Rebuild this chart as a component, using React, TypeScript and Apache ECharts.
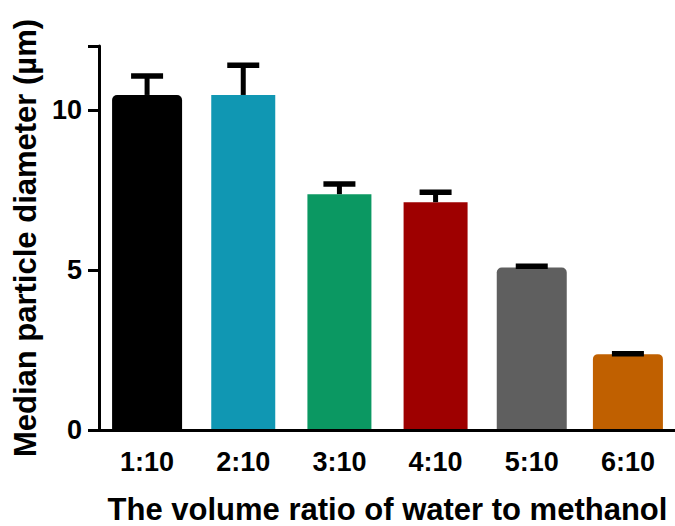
import React, { useEffect, useRef } from "react";
import * as echarts from "echarts";

const categories = ["1:10", "2:10", "3:10", "4:10", "5:10", "6:10"];
const means = [10.47, 10.47, 7.37, 7.12, 5.08, 2.37];
const sds = [0.59, 0.93, 0.32, 0.31, 0.04, 0.01];
const colors = ["#000000", "#1097b3", "#0b9862", "#9e0000", "#5f5f5f", "#c06000"];
const rounded = [true, false, false, false, true, true];
const yTicks = [0, 5, 10];

const FONT = "Arial, 'Liberation Sans', Helvetica, sans-serif";
const WIDE_BAR = 70;
const NARROW_BAR = 64;

export default function App() {
  const ref = useRef<HTMLDivElement>(null);

  useEffect(() => {
    document.body.style.margin = "0";
    if (!ref.current) return;
    const chart = echarts.init(ref.current, undefined, { renderer: "svg" });

    const barData = means.map((m, i) => [i, m]);
    const errData = means.map((m, i) => [i, m, m + sds[i]]);

    chart.setOption({
      animation: false,
      grid: { left: 99, top: 46, width: 577, bottom: 96, containLabel: false, outerBoundsMode: "none" },
      xAxis: {
        type: "category",
        data: categories,
        z: 5,
        axisLine: { lineStyle: { color: "#000", width: 3 } },
        axisTick: { alignWithLabel: true, length: 13, lineStyle: { color: "#000", width: 3 } },
        axisLabel: { color: "#000", fontSize: 27, fontWeight: "bold", fontFamily: FONT, margin: 18 },
        name: "The volume ratio of water to methanol",
        nameLocation: "middle",
        nameGap: 64,
        nameTextStyle: { color: "#000", fontSize: 31, fontWeight: "bold", fontFamily: FONT },
      },
      yAxis: {
        type: "value",
        min: yTicks[0],
        max: 12,
        interval: yTicks[1] - yTicks[0],
        z: 5,
        splitLine: { show: false },
        axisLine: { show: true, lineStyle: { color: "#000", width: 3 } },
        axisTick: { show: true, length: 11, lineStyle: { color: "#000", width: 3 } },
        axisLabel: {
          color: "#000",
          fontSize: 27,
          fontWeight: "bold",
          fontFamily: FONT,
          margin: 17,
          formatter: (v: number) => (yTicks.includes(v) ? String(v) : ""),
        },
      },
      graphic: [
        {
          type: "text",
          x: 25,
          y: 238,
          rotation: Math.PI / 2,
          style: {
            text: "Median particle diameter (µm)",
            fill: "#000",
            font: `bold 31px ${FONT}`,
            align: "center",
            verticalAlign: "middle",
          },
        },
      ],
      series: [
        {
          type: "custom",
          z: 2,
          data: barData,
          encode: { x: 0, y: 1 },
          renderItem: (params: any, api: any) => {
            const idx = api.value(0);
            const top = api.coord([idx, api.value(1)]);
            const base = api.coord([idx, 0]);
            const w = rounded[idx] ? WIDE_BAR : NARROW_BAR;
            return {
              type: "rect",
              shape: {
                x: top[0] - w / 2,
                y: top[1],
                width: w,
                height: base[1] - top[1],
                r: rounded[idx] ? [5, 5, 0, 0] : 0,
              },
              style: { fill: colors[idx] },
            };
          },
        },
        {
          type: "custom",
          z: 4,
          data: errData,
          encode: { x: 0, y: [1, 2] },
          renderItem: (params: any, api: any) => {
            const idx = api.value(0);
            const base = api.coord([idx, api.value(1)]);
            const top = api.coord([idx, api.value(2)]);
            const half = 16;
            return {
              type: "group",
              children: [
                {
                  type: "line",
                  shape: { x1: base[0], y1: base[1], x2: top[0], y2: top[1] },
                  style: { stroke: "#000", lineWidth: 5 },
                },
                {
                  type: "line",
                  shape: { x1: top[0] - half, y1: top[1], x2: top[0] + half, y2: top[1] },
                  style: { stroke: "#000", lineWidth: 5.5 },
                },
              ],
            };
          },
        },
      ],
    });

    return () => chart.dispose();
  }, []);

  return <div ref={ref} style={{ width: 675, height: 526 }} />;
}
